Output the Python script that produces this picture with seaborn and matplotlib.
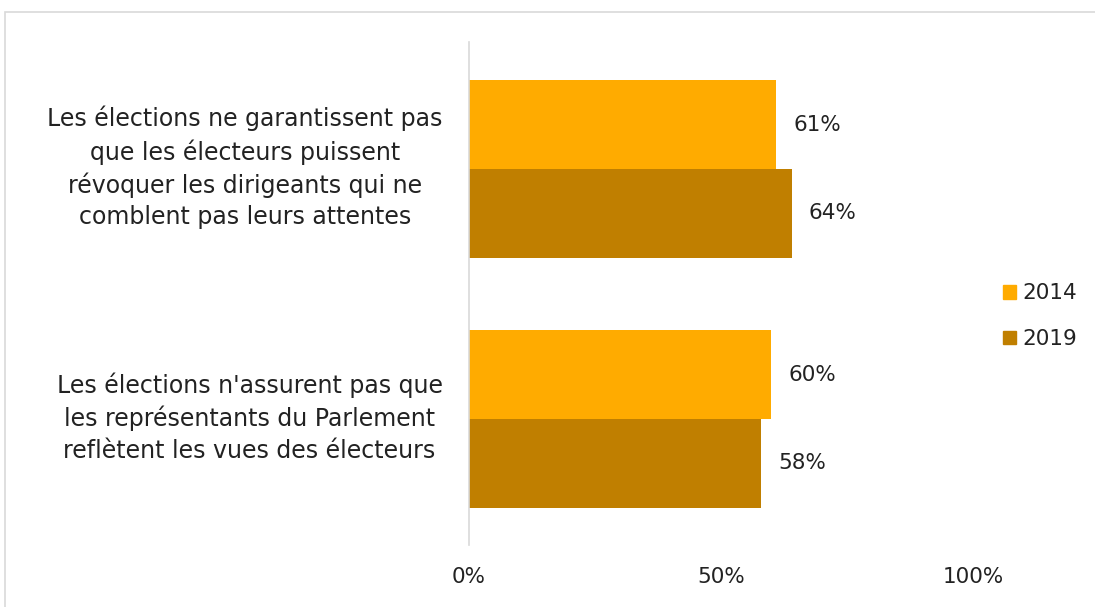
import matplotlib
matplotlib.use('Agg')
import matplotlib.pyplot as plt
import matplotlib.patches as mpatches
import seaborn as sns
import pandas as pd

categories = [
    "Les élections ne garantissent pas\nque les électeurs puissent\nrévoquer les dirigeants qui ne\ncomblent pas leurs attentes",
    "Les élections n'assurent pas que\nles représentants du Parlement\nreflètent les vues des électeurs",
]
years = ['2014', '2019']
values_2014 = [61, 60]
values_2019 = [64, 58]
colors = ['#FFAB00', '#C07F00']

df = pd.DataFrame({
    'cat': categories * 2,
    'year': [years[0]] * 2 + [years[1]] * 2,
    'value': values_2014 + values_2019,
})

sns.set_style('white')
plt.rcParams['font.family'] = ['DejaVu Sans']

fig = plt.figure(figsize=(10.95, 6.07), dpi=100)
ax = fig.add_axes([469 / 1095, 1 - 545 / 607, 504 / 1095, 503 / 607])

sns.barplot(data=df, y='cat', x='value', hue='year', orient='h',
            palette=colors, width=0.71, ax=ax, legend=False, saturation=1,
            linewidth=0)

for c in ax.containers:
    ax.bar_label(c, fmt='{:.0f}%', padding=12, fontsize=15.5, color='#222222')

ax.set_xlim(0, 100)
ax.set_ylim(1.504, -0.508)
ax.set_xticks([0, 50, 100])
ax.set_xticklabels(['0%', '50%', '100%'])
ax.set_xlabel('')
ax.set_ylabel('')
ax.tick_params(axis='x', length=0, pad=16, labelsize=15.5, labelcolor='#222222')

# category labels drawn by hand, centred lines
ax.set_yticks(range(len(categories)))
ax.set_yticklabels([])
ax.tick_params(axis='y', length=0)
for i, cat in enumerate(categories):
    ax.annotate(cat, xy=(0, i), xytext=(-19, 1), textcoords='offset points',
                ha='right', va='center', multialignment='center',
                fontsize=17, color='#222222', linespacing=1.38,
                annotation_clip=False)

for s in ['top', 'right', 'bottom']:
    ax.spines[s].set_visible(False)
ax.spines['left'].set_color('#d9d9d9')
ax.spines['left'].set_linewidth(1.2)

handles = [mpatches.Patch(color=colors[i], label=years[i]) for i in range(2)]
fig.legend(handles=handles, loc='upper left', bbox_to_anchor=(984 / 1095, 1 - 264 / 607),
           frameon=False, fontsize=15.5, handlelength=0.6, handleheight=0.6,
           handletextpad=0.3, labelspacing=1.2, labelcolor='#222222')

border = mpatches.Rectangle((5 / 1095, -0.1), 1.2, 1 - 12 / 607 + 0.1,
                            transform=fig.transFigure, fill=False,
                            edgecolor='#d9d9d9', linewidth=1.2, clip_on=False)
fig.patches.append(border)

fig.savefig('out.png', dpi=100)
